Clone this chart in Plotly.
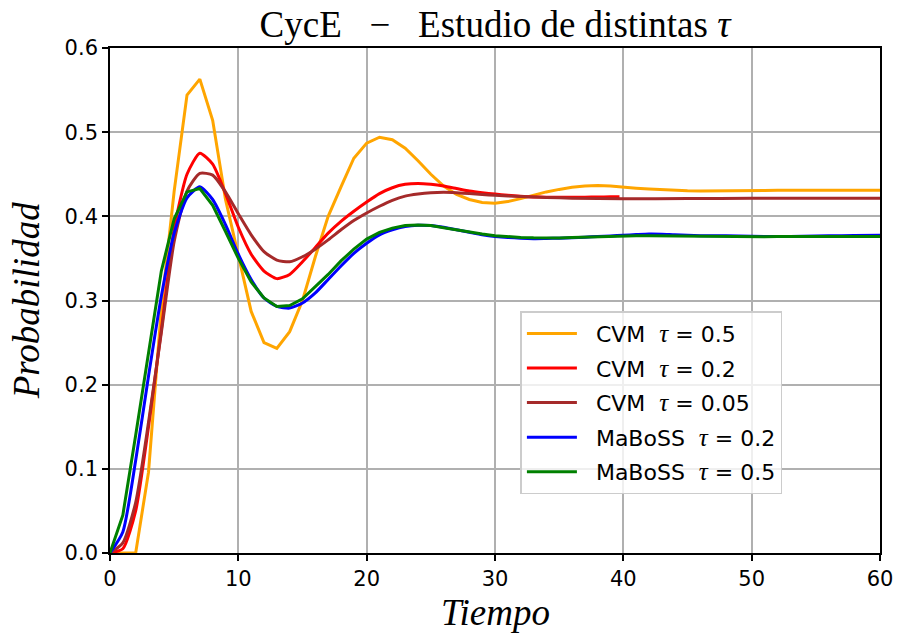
import plotly.graph_objects as go

# CVM, tau = 0.5 (sampled every time unit)
t_cvm05 = list(range(0, 61))
p_cvm05 = [0.0, 0.0, 0.0, 0.096, 0.29, 0.43, 0.544, 0.563, 0.514, 0.42,
           0.352, 0.287, 0.25, 0.243, 0.263, 0.30, 0.352, 0.40, 0.435, 0.469,
           0.487, 0.494, 0.491, 0.481, 0.466, 0.45, 0.436, 0.426, 0.42, 0.4165,
           0.4155, 0.4175, 0.421, 0.425, 0.429, 0.432, 0.4345, 0.436, 0.4365, 0.436,
           0.4345, 0.4335, 0.4325, 0.4315, 0.431, 0.4303, 0.43, 0.43, 0.43, 0.4302,
           0.4305, 0.4308, 0.431, 0.431, 0.431, 0.431, 0.431, 0.431, 0.431, 0.431, 0.431]

# CVM, tau = 0.2 (run stops near t = 40)
t_cvm02 = list(range(0, 40)) + [39.7]
p_cvm02 = [0.0, 0.005, 0.05, 0.15, 0.265, 0.385, 0.45, 0.475, 0.462, 0.427,
           0.387, 0.355, 0.335, 0.326, 0.331, 0.346, 0.363, 0.38, 0.394, 0.406,
           0.417, 0.427, 0.434, 0.438, 0.439, 0.438, 0.436, 0.433, 0.430, 0.428,
           0.4265, 0.425, 0.4238, 0.423, 0.4227, 0.4226, 0.4226, 0.4228, 0.423, 0.4232,
           0.4233]

# CVM, tau = 0.05
t_cvm005 = list(range(0, 31)) + [32, 34, 36, 40, 45, 50, 55, 60]
p_cvm005 = [0.0, 0.012, 0.06, 0.155, 0.262, 0.37, 0.43, 0.451, 0.449, 0.429,
            0.403, 0.378, 0.358, 0.348, 0.346, 0.352, 0.361, 0.372, 0.384, 0.395,
            0.404, 0.412, 0.419, 0.424, 0.4265, 0.428, 0.4285, 0.428, 0.427, 0.426,
            0.425, 0.4235, 0.4225, 0.4215, 0.4208, 0.4212, 0.4214, 0.4214, 0.4214]

# MaBoSS, tau = 0.2
t_mab02 = list(range(0, 47)) + [48, 50, 52, 54, 56, 58, 60]
p_mab02 = [0.0, 0.025, 0.11, 0.21, 0.305, 0.38, 0.422, 0.435, 0.42, 0.39,
           0.355, 0.325, 0.303, 0.293, 0.291, 0.297, 0.309, 0.325, 0.341, 0.356,
           0.368, 0.378, 0.384, 0.388, 0.3895, 0.389, 0.387, 0.384, 0.381, 0.378,
           0.376, 0.375, 0.374, 0.3735, 0.3737, 0.374, 0.3745, 0.3752, 0.376, 0.3767,
           0.3775, 0.3783, 0.379, 0.3788, 0.378, 0.3775, 0.377,
           0.3768, 0.3762, 0.376, 0.3762, 0.3768, 0.3773, 0.3775]

# MaBoSS, tau = 0.5 (sampled every time unit)
t_mab05 = list(range(0, 61))
p_mab05 = [0.0, 0.045, 0.14, 0.24, 0.335, 0.397, 0.429, 0.433, 0.413, 0.382,
           0.35, 0.322, 0.303, 0.293, 0.294, 0.302, 0.316, 0.331, 0.347, 0.361,
           0.373, 0.381, 0.386, 0.389, 0.3897, 0.389, 0.3865, 0.384, 0.381, 0.379,
           0.377, 0.3757, 0.375, 0.3745, 0.374, 0.3743, 0.375, 0.3755, 0.376, 0.3762,
           0.3766, 0.3768, 0.377, 0.3768, 0.3765, 0.3762, 0.376, 0.3758, 0.3756, 0.3755,
           0.3757, 0.3758, 0.376, 0.376, 0.376, 0.376, 0.376, 0.376, 0.376, 0.376, 0.376]

x_ticks = [0, 10, 20, 30, 40, 50, 60]
y_ticks = [0.0, 0.1, 0.2, 0.3, 0.4, 0.5, 0.6]
y_tick_text = ["0.0", "0.1", "0.2", "0.3", "0.4", "0.5", "0.6"]

TAU = '<span style="font-family:Liberation Serif;font-size:25px"><i>τ</i></span>'
NB = "\u00a0"

series = [
    (t_cvm05, p_cvm05, "orange", "linear", f"{NB}{NB}CVM{NB}{NB}{TAU} = 0.5"),
    (t_cvm02, p_cvm02, "red", "spline", f"{NB}{NB}CVM{NB}{NB}{TAU} = 0.2"),
    (t_cvm005, p_cvm005, "#a52a2a", "spline", f"{NB}{NB}CVM{NB}{NB}{TAU} = 0.05"),
    (t_mab02, p_mab02, "blue", "spline", f"{NB}{NB}MaBoSS{NB}{NB}{TAU} = 0.2"),
    (t_mab05, p_mab05, "green", "linear", f"{NB}{NB}MaBoSS{NB}{NB}{TAU} = 0.5"),
]

fig = go.Figure()
for i, (t, p, color, shape, name) in enumerate(series):
    fig.add_trace(go.Scatter(
        x=t, y=p, mode="lines", name=name, legendgroup=f"g{i}",
        line=dict(color=color, width=3, shape=shape, smoothing=0.6),
    ))

axis_common = dict(
    showline=True, linecolor="black", linewidth=1.6, mirror=True,
    ticks="outside", ticklen=6, tickwidth=1.6, tickcolor="black",
    showgrid=True, gridcolor="#b0b0b0", gridwidth=1.6,
    zeroline=False,
    tickfont=dict(family="DejaVu Sans", size=21, color="black"),
)

fig.update_layout(
    width=905, height=636,
    margin=dict(l=110, r=17, t=48, b=83),
    paper_bgcolor="white", plot_bgcolor="white",
    title=dict(
        text=f"CycE{NB}{NB}{NB}−{NB}{NB}{NB}Estudio de distintas <i>τ</i>",
        x=0.5, xref="paper", xanchor="center",
        y=1 - 24 / 636, yref="container", yanchor="middle",
        font=dict(family="Liberation Serif", size=37, color="black"),
    ),
    xaxis=dict(range=[0, 60], tickvals=x_ticks, **axis_common),
    yaxis=dict(range=[0, 0.6], tickvals=y_ticks, ticktext=y_tick_text, **axis_common),
    legend=dict(
        x=0.533, y=0.479, xanchor="left", yanchor="top",
        bgcolor="rgba(255,255,255,0.8)", bordercolor="#cccccc", borderwidth=1.5,
        font=dict(family="DejaVu Sans", size=22, color="black"),
        tracegroupgap=3, itemwidth=50,
    ),
    showlegend=True,
)

# axis titles
fig.add_annotation(
    text="<i>Tiempo</i>", x=0.5, y=-0.118, xref="paper", yref="paper",
    xanchor="center", yanchor="middle", showarrow=False,
    font=dict(family="Liberation Serif", size=37, color="black"),
)
fig.add_annotation(
    text="<i>Probabilidad</i>", x=-0.108, y=0.5, xref="paper", yref="paper",
    xanchor="center", yanchor="middle", showarrow=False, textangle=-90,
    font=dict(family="Liberation Serif", size=37, color="black"),
)

fig.write_html("out.html")
